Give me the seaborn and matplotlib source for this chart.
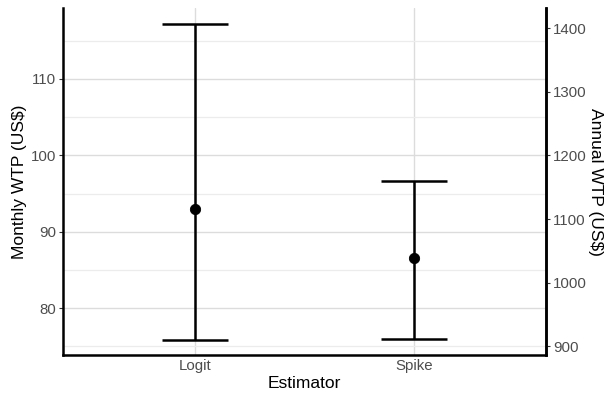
import pandas as pd
import seaborn as sns
import matplotlib.pyplot as plt
from matplotlib.ticker import MultipleLocator

# estimates (monthly WTP, US$)
estimators = ['Logit', 'Spike']
wtp_mean = [93.0, 86.5]
wtp_low = [75.8, 75.95]
wtp_high = [117.2, 96.65]

df = pd.DataFrame({'estimator': estimators, 'wtp': wtp_mean,
                   'low': wtp_low, 'high': wtp_high})

sns.set_theme(style='white')
plt.rcParams['font.family'] = ['Liberation Sans', 'DejaVu Sans']

fig, ax = plt.subplots(figsize=(6.08, 3.98), dpi=100)
fig.subplots_adjust(left=0.104, right=0.898, top=0.98, bottom=0.108)

# gridlines ggplot-style: major + minor
ax.yaxis.set_major_locator(MultipleLocator(10))
ax.yaxis.set_minor_locator(MultipleLocator(5))
ax.grid(which='major', axis='both', color='#dcdcdc', lw=1.0, zorder=0)
ax.grid(which='minor', axis='y', color='#ececec', lw=0.9, zorder=0)
ax.set_axisbelow(True)

ax.errorbar(x=range(len(df)), y=df['wtp'],
            yerr=[df['wtp'] - df['low'], df['high'] - df['wtp']],
            fmt='none', ecolor='black', elinewidth=1.8, capsize=23.5,
            capthick=1.8, zorder=3)
sns.scatterplot(data=df, x='estimator', y='wtp', color='black', s=55,
                edgecolor='black', zorder=4, ax=ax)

ax.set_xlim(-0.6, 1.6)
ax.set_ylim(73.86, 119.3)
ax.set_xlabel('Estimator', fontsize=12.5, color='black', labelpad=2)
ax.set_ylabel('Monthly WTP (US$)', fontsize=12.5, color='black', labelpad=3)
ax.tick_params(axis='y', which='major', length=3, width=0.8, color='#333333',
               labelsize=10.8, labelcolor='#4d4d4d', pad=2)
ax.tick_params(axis='y', which='minor', length=0)
ax.tick_params(axis='x', length=0, labelsize=10.8, labelcolor='#4d4d4d', pad=3)

for side in ['left', 'bottom', 'right']:
    ax.spines[side].set_color('black')
    ax.spines[side].set_linewidth(1.8)
ax.spines['top'].set_visible(False)

# secondary axis: annual = 12 x monthly
ax2 = ax.twinx()
lo, hi = ax.get_ylim()
ax2.set_ylim(lo * 12, hi * 12)
ax2.yaxis.set_major_locator(MultipleLocator(100))
ax2.set_ylabel('Annual WTP (US$)', fontsize=12.5, color='black',
               rotation=-90, labelpad=1, va='bottom')
ax2.tick_params(axis='y', length=3, width=0.8, color='#333333',
                labelsize=10.8, labelcolor='#4d4d4d', pad=2)
for side in ['left', 'bottom', 'top']:
    ax2.spines[side].set_visible(False)
ax2.spines['right'].set_color('black')
ax2.spines['right'].set_linewidth(1.8)
ax2.grid(False)

fig.savefig('out.png', dpi=100)
